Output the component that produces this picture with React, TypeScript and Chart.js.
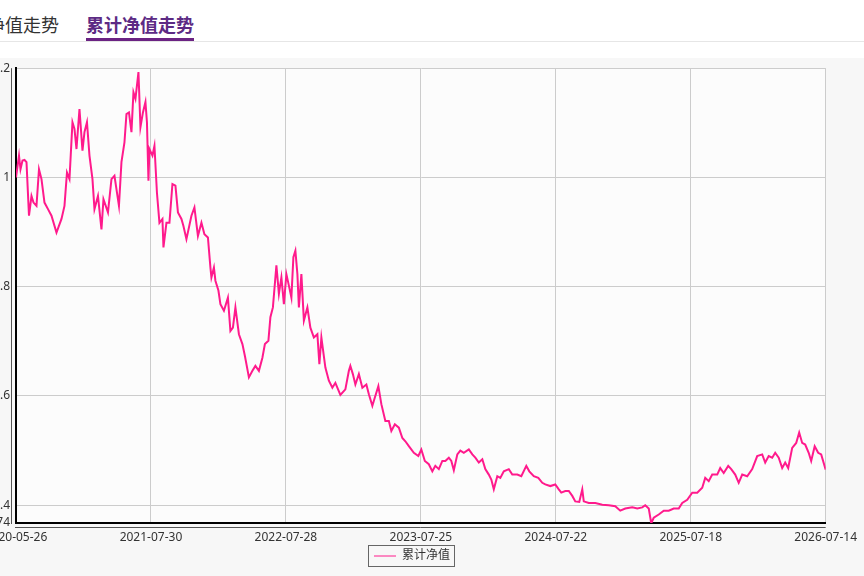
import React, { useEffect, useRef } from "react";
import { Chart, registerables } from "chart.js";

Chart.register(...registerables);

const xTickLabels = ["2020-05-26", "2021-07-30", "2022-07-28", "2023-07-25", "2024-07-22", "2025-07-18", "2026-07-14"];
const xMax = 1620;
const xStep = 270;

const yTicks = [0.3674, 0.4, 0.6, 0.8, 1.0, 1.2];

const seriesName = "累计净值";

const dayIndex = [
  0, 6, 9, 13, 17, 21, 26, 31, 35, 41,
  46, 51, 57, 64, 71, 81, 91, 97, 102, 107,
  113, 117, 121, 127, 133, 137, 142, 147, 153, 157,
  164, 171, 175, 184, 191, 197, 206, 211, 217, 221,
  226, 231, 235, 239, 245, 249, 254, 259, 262, 265,
  267, 273, 277, 282, 287, 293, 295, 301, 307, 313,
  319, 324, 331, 335, 341, 351, 357, 364, 371, 377,
  384, 386,
  389, 391, 396, 399, 405, 409, 416, 424, 429, 434,
  439, 446, 453, 458, 466, 473, 479, 486, 493, 498,
  505, 509, 514, 521, 526, 531, 536, 541, 546, 551,
  555, 559, 563, 566, 571, 576, 583, 589, 596, 603,
  607, 611, 619, 626, 633, 639, 649, 659, 666, 669,
  674, 679, 686,
  693, 701, 706, 713, 718, 725, 731, 739, 746, 751,
  758, 766, 773, 779, 786, 796, 805, 811, 818, 826,
  833, 839, 846, 853, 859, 866, 871, 876, 883, 889,
  896, 906, 913, 919, 926, 933, 939, 946, 951, 956,
  963, 969, 976, 986, 993, 1003, 1011, 1021, 1027, 1036,
  1045,
  1053, 1059, 1069, 1079, 1086, 1091, 1099, 1106, 1113, 1119,
  1127, 1133, 1136, 1146, 1159, 1173, 1186, 1199, 1209, 1219,
  1233, 1243, 1253, 1259, 1266, 1271, 1276, 1286, 1296, 1306,
  1316, 1326, 1333, 1343, 1353, 1363, 1373, 1379, 1386, 1393,
  1403, 1409, 1416, 1425, 1431, 1439, 1446, 1453, 1463, 1473,
  1483, 1493, 1499, 1506, 1513, 1519, 1526, 1533, 1539, 1545,
  1553, 1561, 1567, 1573, 1579, 1586, 1591, 1598, 1605, 1611,
  1620,
];

const navValues = [
  1.000, 1.040, 1.015, 1.031, 1.032, 1.028, 0.930, 0.966, 0.954, 0.948,
  1.015, 0.997, 0.954, 0.942, 0.930, 0.899, 0.924, 0.948, 1.009, 0.997,
  1.101, 1.089, 1.052, 1.125, 1.049, 1.083, 1.101, 1.040, 0.997, 0.942,
  0.966, 0.905, 0.960, 0.936, 0.997, 1.003, 0.948, 1.028, 1.064, 1.116,
  1.119, 1.083, 1.156, 1.144, 1.193, 1.092, 1.119, 1.138, 1.101, 0.994,
  1.052, 1.040, 1.058, 0.972, 0.917, 0.924, 0.872, 0.917, 0.917, 0.988,
  0.985, 0.936, 0.924, 0.911, 0.887, 0.930, 0.945, 0.893, 0.917, 0.896,
  0.890, 0.868,
  0.835, 0.817, 0.835, 0.811, 0.793, 0.768, 0.756, 0.780, 0.719, 0.725,
  0.762, 0.713, 0.695, 0.673, 0.634, 0.646, 0.655, 0.646, 0.670, 0.695,
  0.701, 0.744, 0.762, 0.839, 0.787, 0.817, 0.768, 0.823, 0.802, 0.780,
  0.854, 0.866, 0.823, 0.762, 0.823, 0.738, 0.762, 0.725, 0.707, 0.713,
  0.658, 0.707, 0.652, 0.628, 0.615, 0.624, 0.602, 0.612, 0.646, 0.655,
  0.640, 0.621, 0.640,
  0.615, 0.621, 0.603, 0.582, 0.597, 0.618, 0.585, 0.554, 0.554, 0.536,
  0.548, 0.542, 0.523, 0.517, 0.508, 0.496, 0.490, 0.502, 0.481, 0.475,
  0.462, 0.472, 0.466, 0.481, 0.481, 0.487, 0.481, 0.464, 0.493, 0.500,
  0.496, 0.502, 0.493, 0.487, 0.478, 0.484, 0.466, 0.456, 0.447, 0.429,
  0.453, 0.450, 0.462, 0.466, 0.456, 0.456, 0.453, 0.472, 0.462, 0.453,
  0.450,
  0.441, 0.438, 0.435, 0.438, 0.429, 0.423, 0.426, 0.426, 0.417, 0.407,
  0.406, 0.429, 0.407, 0.404, 0.404, 0.401, 0.400, 0.398, 0.390, 0.394,
  0.396, 0.394, 0.396, 0.400, 0.394, 0.367, 0.377, 0.383, 0.390, 0.390,
  0.394, 0.394, 0.404, 0.410, 0.423, 0.423, 0.432, 0.450, 0.444, 0.456,
  0.456, 0.468, 0.459, 0.472, 0.466, 0.456, 0.441, 0.456, 0.453, 0.466,
  0.490, 0.493, 0.478, 0.490, 0.487, 0.496, 0.487, 0.468, 0.478, 0.468,
  0.505, 0.514, 0.533, 0.514, 0.511, 0.496, 0.481, 0.508, 0.496, 0.493,
  0.465,
];

const FONT = "'Noto Sans', 'Noto Sans CJK SC', sans-serif";

const plotBgPlugin = {
  id: "plotBg",
  beforeDraw(chart: any) {
    const { ctx, chartArea } = chart;
    if (!chartArea) return;
    ctx.save();
    ctx.fillStyle = "#fcfcfc";
    ctx.fillRect(chartArea.left, chartArea.top, chartArea.right - chartArea.left, chartArea.bottom - chartArea.top);
    ctx.restore();
  },
};

const frameLinesPlugin = {
  id: "frameLines",
  afterDraw(chart: any) {
    const { ctx, chartArea } = chart;
    if (!chartArea) return;
    ctx.save();
    ctx.strokeStyle = "#555";
    ctx.lineWidth = 1;
    ctx.beginPath();
    ctx.moveTo(chartArea.left - 4.5, chartArea.top);
    ctx.lineTo(chartArea.left - 4.5, chartArea.bottom + 1);
    ctx.moveTo(chartArea.left - 1, chartArea.bottom + 4.5);
    ctx.lineTo(chartArea.right, chartArea.bottom + 4.5);
    ctx.stroke();
    ctx.restore();
  },
};

const legendBoxPlugin = {
  id: "legendBox",
  afterDraw(chart: any) {
    const lg = chart.legend;
    if (!lg || !lg.legendHitBoxes || !lg.legendHitBoxes.length) return;
    let l = Infinity, t = Infinity, r = -Infinity, b = -Infinity;
    for (const h of lg.legendHitBoxes) {
      l = Math.min(l, h.left);
      t = Math.min(t, h.top);
      r = Math.max(r, h.left + h.width);
      b = Math.max(b, h.top + h.height);
    }
    const ctx = chart.ctx;
    ctx.save();
    ctx.strokeStyle = "#666";
    ctx.lineWidth = 1;
    ctx.strokeRect(Math.round(l - 6) + 0.5, Math.round(t - 5) + 0.5, Math.round(r - l + 10), Math.round(b - t + 9));
    ctx.restore();
  },
};

function NavChart() {
  const ref = useRef<HTMLCanvasElement | null>(null);
  useEffect(() => {
    if (!ref.current) return;
    const points = dayIndex.map((d, i) => ({ x: d, y: navValues[i] }));
    const chart = new Chart(ref.current, {
      type: "line",
      data: {
        datasets: [
          {
            label: seriesName,
            data: points,
            borderColor: "#ff1a8c",
            backgroundColor: "#ff1a8c",
            borderWidth: 2,
            pointRadius: 0,
            tension: 0,
            fill: false,
          },
        ],
      },
      options: {
        animation: false,
        responsive: false,
        layout: { padding: { top: 3, right: 38, bottom: 4, left: 38 } },
        scales: {
          x: {
            type: "linear",
            min: 0,
            max: xMax,
            afterBuildTicks: (scale: any) => {
              scale.ticks = xTickLabels.map((_, i) => ({ value: i * xStep }));
            },
            afterFit: (scale: any) => {
              scale.height = 18;
            },
            ticks: {
              autoSkip: false,
              maxRotation: 0,
              padding: 7,
              color: "#333",
              font: { family: FONT, size: 12 },
              callback: (v: any) => xTickLabels[Math.round(Number(v) / xStep)] ?? "",
            },
            grid: { color: "#cccccc", lineWidth: 1, drawTicks: false },
            border: { color: "#000", width: 2 },
          },
          y: {
            min: yTicks[0],
            max: yTicks[yTicks.length - 1],
            afterBuildTicks: (scale: any) => {
              scale.ticks = yTicks.map((v) => ({ value: v }));
            },
            afterFit: (scale: any) => {
              scale.width = 18;
            },
            ticks: {
              autoSkip: false,
              padding: 6,
              color: "#333",
              font: { family: FONT, size: 12 },
              callback: (v: any) => String(Number(Number(v).toFixed(4))),
            },
            grid: { color: "#cccccc", lineWidth: 1, drawTicks: false },
            border: { color: "#000", width: 2 },
          },
        },
        plugins: {
          legend: {
            display: true,
            position: "bottom",
            labels: {
              usePointStyle: true,
              pointStyle: "line",
              pointStyleWidth: 22,
              padding: 9,
              color: "#333",
              font: { family: FONT, size: 12 },
              generateLabels: (c: any) =>
                Chart.defaults.plugins.legend.labels.generateLabels(c).map((it: any) => ({ ...it, lineWidth: 1, pointStyle: "line" })),
            },
          },
          tooltip: { enabled: false },
        },
      } as any,
      plugins: [plotBgPlugin, frameLinesPlugin, legendBoxPlugin],
    });
    return () => chart.destroy();
  }, []);
  return (
    <canvas
      ref={ref}
      width={904}
      height={521}
      style={{ position: "absolute", left: -40, top: 55, width: 904, height: 521 }}
    />
  );
}

export default function App() {
  return (
    <div
      style={{
        position: "fixed",
        left: 0,
        top: 0,
        width: 864,
        height: 576,
        overflow: "hidden",
        background: "#ffffff",
        fontFamily: "'Noto Sans CJK SC', 'Noto Sans', sans-serif",
      }}
    >
      <div style={{ position: "absolute", left: -49, top: 13, fontSize: 18, lineHeight: "22px", color: "#333", whiteSpace: "nowrap" }}>
        单位净值走势
      </div>
      <div style={{ position: "absolute", left: 86, top: 13, fontSize: 18, lineHeight: "22px", color: "#5c2a84", fontWeight: 700, whiteSpace: "nowrap" }}>
        累计净值走势
      </div>
      <div style={{ position: "absolute", left: 86, top: 38, width: 108, height: 3, background: "#6b2383" }} />
      <div style={{ position: "absolute", left: 0, top: 41, width: 864, height: 1, background: "#e6e6e6" }} />
      <div style={{ position: "absolute", left: 0, top: 58, width: 864, height: 518, background: "#f7f7f7" }} />
      <NavChart />
    </div>
  );
}
